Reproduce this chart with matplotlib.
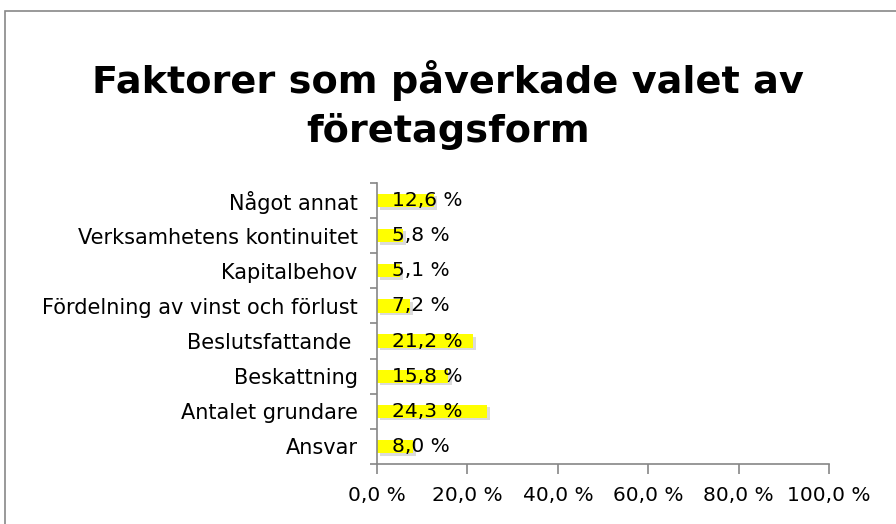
import matplotlib.pyplot as plt
from matplotlib.patches import Rectangle
import numpy as np

# Data (bottom to top)
kategorier = ['Ansvar', 'Antalet grundare', 'Beskattning', 'Beslutsfattande ',
              'Fördelning av vinst och förlust', 'Kapitalbehov',
              'Verksamhetens kontinuitet', 'Något annat']
andelar = [8.0, 24.3, 15.8, 21.2, 7.2, 5.1, 5.8, 12.6]
xticks = [0, 20, 40, 60, 80, 100]

plt.rcParams['font.family'] = ['DejaVu Sans']

fig = plt.figure(figsize=(8.96, 5.24), dpi=100)
ax = fig.add_axes([0.4208, 0.1145, 0.5045, 0.5363])

y = np.arange(len(kategorier))
# skugga bakom staplarna
ax.barh(y - 0.07, andelar, height=0.38, left=0.7, color='#999999', alpha=0.35, zorder=1)
ax.barh(y, andelar, height=0.38, color='#FFFF00', zorder=2)

for yi, v in zip(y, andelar):
    ax.text(3.4, yi, f"{v:.1f} %".replace('.', ','), va='center', ha='left',
            fontsize=14.5, color='black', zorder=3)

ax.set_xlim(0, 100)
ax.set_ylim(-0.5, len(kategorier) - 0.5)
ax.set_xticks(xticks)
ax.set_xticklabels([f"{t:.1f} %".replace('.', ',') for t in xticks], fontsize=14.5)
ax.set_yticks(y)
ax.set_yticklabels(kategorier, fontsize=15)
ax.set_yticks(np.arange(-0.5, len(kategorier)), minor=True)
ax.tick_params(axis='y', which='major', length=0, pad=14)
ax.tick_params(axis='y', which='minor', length=5, color='#868686', width=1.2)
ax.tick_params(axis='x', length=7, color='#868686', width=1.2, pad=9)

for s in ['top', 'right']:
    ax.spines[s].set_visible(False)
for s in ['left', 'bottom']:
    ax.spines[s].set_color('#868686')
    ax.spines[s].set_linewidth(1.2)

fig.text(0.5, 0.80, 'Faktorer som påverkade valet av\nföretagsform', ha='center', va='center',
         fontsize=27.5, fontweight='bold', linespacing=1.4)

# ram runt diagrammet
fig.patches.append(Rectangle((5 / 896, -0.1), 1.2, 1 - 11 / 524 + 0.1, transform=fig.transFigure,
                             fill=False, edgecolor='#888888', linewidth=1.2))

fig.savefig('out.png', dpi=100)
